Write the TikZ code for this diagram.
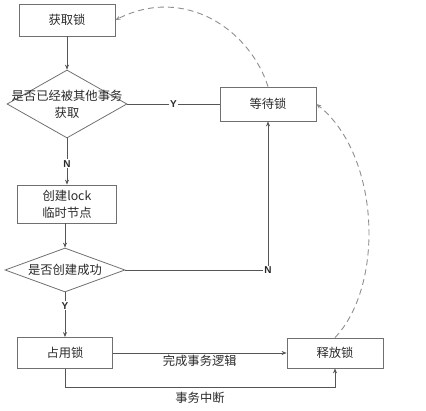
\documentclass[tikz,border=0pt]{standalone}
\usepackage{fontspec}
\setmainfont{Noto Sans CJK SC}
\newfontfamily\latf{Liberation Sans}
\usetikzlibrary{shapes.geometric,arrows.meta}
\definecolor{ln}{HTML}{555555}
\definecolor{bx}{HTML}{707070}
\definecolor{dsh}{HTML}{8E8E8E}
\definecolor{tx}{HTML}{2A2A2A}
\tikzset{
  box/.style={draw=bx,line width=0.8pt,rectangle,minimum width=96pt,minimum height=32pt,inner sep=0pt,align=center,text=tx,font=\fontsize{12.3}{17}\selectfont},
  dia/.style={draw=bx,line width=0.8pt,diamond,inner sep=0pt,text=tx},
  conn/.style={draw=ln,line width=0.7pt,-{Stealth[length=5pt,width=4pt]}},
  plain/.style={draw=ln,line width=0.7pt},
  dcurve/.style={draw=dsh,line width=0.9pt,dash pattern=on 6pt off 4pt,-{Stealth[length=5pt,width=4pt]}},
  yn/.style={font=\latf\bfseries\fontsize{10}{11}\selectfont,text=tx,fill=white,inner sep=1pt},
  lab/.style={font=\fontsize{12.3}{14}\selectfont,text=tx,inner sep=1pt}
}
\begin{document}
\begin{tikzpicture}[x=1pt,y=-1pt]
\useasboundingbox (0,0) rectangle (426,411);
\node[box] (get) at (67,20) {获取锁};
\node[dia,minimum width=120pt,minimum height=68pt,label={[lab,align=center,font=\fontsize{12.3}{17}\selectfont]center:是否已经被其他事务\\获取}] (q1) at (67,104) {};
\node[box,minimum height=34pt] (wait) at (268,104) {等待锁};
\node[box,minimum width=99pt,minimum height=38pt] (create) at (67,204) {创建lock\\临时节点};
\node[dia,minimum width=120pt,minimum height=44pt,label={[lab]center:是否创建成功}] (q2) at (65,270) {};
\node[box,minimum width=95pt,minimum height=31pt] (occ) at (65,353) {占用锁};
\node[box,minimum height=30pt] (rel) at (335,353) {释放锁};
\coordinate (c1) at (65,387);
\coordinate (c2) at (335,387);

\draw[conn] (get.south) -- (get.south |- q1.north);
\draw[plain] (q1.east) -- node[yn]{Y} (wait.west);
\draw[conn] (q1.south) -- node[yn,pos=0.55]{N} (create.north -| q1.south);
\draw[conn] (create.south -| q2.north) -- (q2.north);
\draw[conn] (q2.east) -| node[yn,pos=0.5]{N} (wait.south);
\draw[conn] (q2.south) -- node[yn,pos=0.3]{Y} (occ.north);
\draw[conn] (occ.east) -- node[lab,below=1pt]{完成事务逻辑} (rel.west);
\draw[conn] (occ.south) -- (c1) -- node[lab,below=4pt]{事务中断} (c2) -- (rel.south);
\draw[dcurve] (rel.north) .. controls (385,285) and (380,155) .. (wait.east);
\draw[dcurve] (wait.north) .. controls (250,30) and (185,-15) .. (get.east);
\end{tikzpicture}
\end{document}
